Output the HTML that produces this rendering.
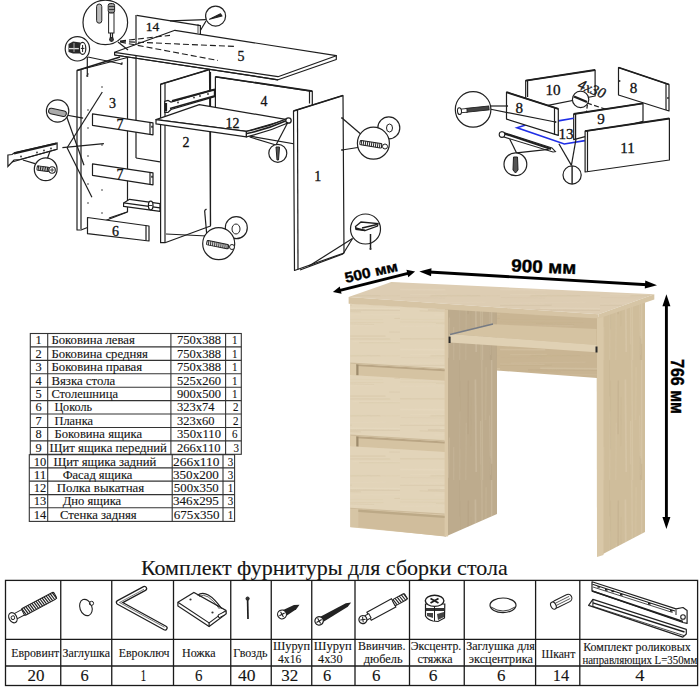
<!DOCTYPE html>
<html><head><meta charset="utf-8"><style>
html,body{margin:0;padding:0;background:#fff;width:700px;height:689px;overflow:hidden}
svg{display:block}
</style></head><body>
<svg width="700" height="689" viewBox="0 0 700 689">
<polyline points="136.7,15.3 200.4,25.6 200.4,34.1" stroke="#1e1e1e" stroke-width="1.2" fill="#fff" stroke-linejoin="round"/>
<line x1="136" y1="15" x2="136" y2="52" stroke="#1e1e1e" stroke-width="1.2" />
<line x1="198" y1="24" x2="198" y2="33" stroke="#1e1e1e" stroke-width="0.8" />
<text x="152.5" y="31.3" font-family="Liberation Serif" font-size="13.5" fill="#111" stroke="#111" stroke-width="0.3" text-anchor="middle">14</text>
<line x1="205.9" y1="19.6" x2="170" y2="20.8" stroke="#1e1e1e" stroke-width="1.2" />
<line x1="206" y1="21" x2="200.4" y2="30.5" stroke="#1e1e1e" stroke-width="1.2" />
<circle cx="215.6" cy="16.1" r="10" stroke="#222" stroke-width="1.2" fill="#fff"/>
<path d="M209.5,19.3 L220.5,13.8 L222,16 Z" fill="#222" stroke="#222" stroke-width="1.1" stroke-linejoin="round"/>
<polygon points="77.0,70.5 127.5,57.5 127.5,212.0 81.0,230.0 77.0,230.0" stroke="#1e1e1e" stroke-width="1.2" fill="#fff" stroke-linejoin="round"/>
<line x1="81" y1="69.5" x2="81" y2="229" stroke="#1e1e1e" stroke-width="1.2" />
<line x1="77" y1="70.5" x2="120" y2="57" stroke="#1e1e1e" stroke-width="1.6" />
<line x1="136" y1="52" x2="136" y2="158" stroke="#1e1e1e" stroke-width="1.2" />
<line x1="136" y1="158" x2="160" y2="161.8" stroke="#1e1e1e" stroke-width="1.2" />
<circle cx="88" cy="74" r="0.8" fill="#333"/>
<circle cx="122" cy="63" r="0.8" fill="#333"/>
<circle cx="102" cy="87" r="0.8" fill="#333"/>
<circle cx="88" cy="110" r="0.8" fill="#333"/>
<circle cx="102" cy="122" r="0.8" fill="#333"/>
<circle cx="88" cy="128" r="0.8" fill="#333"/>
<circle cx="102" cy="145" r="0.8" fill="#333"/>
<circle cx="88" cy="156" r="0.8" fill="#333"/>
<circle cx="102" cy="167" r="0.8" fill="#333"/>
<circle cx="88" cy="184" r="0.8" fill="#333"/>
<circle cx="102" cy="190" r="0.8" fill="#333"/>
<circle cx="88" cy="203" r="0.8" fill="#333"/>
<circle cx="102" cy="213" r="0.8" fill="#333"/>
<circle cx="88" cy="222" r="0.8" fill="#333"/>
<text x="112.5" y="107.5" font-family="Liberation Serif" font-size="14.0" fill="#111" stroke="#111" stroke-width="0.3" text-anchor="middle">3</text>
<polygon points="92.5,113.8 153.0,122.8 153.0,134.8 92.5,125.3" stroke="#1e1e1e" stroke-width="1.2" fill="#fff" stroke-linejoin="round"/>
<line x1="150" y1="122.3" x2="150" y2="134.3" stroke="#1e1e1e" stroke-width="1.2" />
<line x1="152" y1="125.8" x2="152" y2="127.8" stroke="#1e1e1e" stroke-width="1.5" />
<text x="120" y="128.5" font-family="Liberation Serif" font-size="14.0" fill="#111" stroke="#111" stroke-width="0.3" text-anchor="middle">7</text>
<polygon points="92.5,163.8 153.0,172.8 153.0,184.8 92.5,175.3" stroke="#1e1e1e" stroke-width="1.2" fill="#fff" stroke-linejoin="round"/>
<line x1="150" y1="172.3" x2="150" y2="184.3" stroke="#1e1e1e" stroke-width="1.2" />
<line x1="152" y1="175.8" x2="152" y2="177.8" stroke="#1e1e1e" stroke-width="1.5" />
<text x="120" y="178.5" font-family="Liberation Serif" font-size="14.0" fill="#111" stroke="#111" stroke-width="0.3" text-anchor="middle">7</text>
<polygon points="123.6,202.9 129.6,199.3 160.0,203.6 160.0,211.4 123.6,206.4" stroke="#1e1e1e" stroke-width="1.2" fill="#fff" stroke-linejoin="round"/>
<line x1="123.6" y1="202.9" x2="160" y2="207.8" stroke="#1e1e1e" stroke-width="1.2" />
<ellipse cx="150.7" cy="205.5" rx="2.3" ry="4.3" stroke="#1e1e1e" stroke-width="1.2" fill="#fff"/>
<line x1="149" y1="205.5" x2="152.4" y2="205.5" stroke="#1e1e1e" stroke-width="0.9" />
<polygon points="87.5,217.5 149.0,226.0 149.0,241.0 87.5,233.7" stroke="#1e1e1e" stroke-width="1.2" fill="#fff" stroke-linejoin="round"/>
<line x1="146" y1="225.5" x2="146" y2="240.5" stroke="#1e1e1e" stroke-width="1.2" />
<text x="115.5" y="235.5" font-family="Liberation Serif" font-size="14.0" fill="#111" stroke="#111" stroke-width="0.3" text-anchor="middle">6</text>
<line x1="109" y1="218" x2="127" y2="212" stroke="#1e1e1e" stroke-width="1.2" />
<polygon points="160.6,84.2 209.5,69.5 210.5,226.0 165.0,242.7 160.6,242.7" stroke="#1e1e1e" stroke-width="1.2" fill="#fff" stroke-linejoin="round"/>
<line x1="165" y1="83.5" x2="165" y2="242" stroke="#1e1e1e" stroke-width="1.2" />
<line x1="160.6" y1="84.2" x2="209.5" y2="69.5" stroke="#1e1e1e" stroke-width="1.5" />
<text x="186" y="146.5" font-family="Liberation Serif" font-size="14.0" fill="#111" stroke="#111" stroke-width="0.3" text-anchor="middle">2</text>
<line x1="210.5" y1="72" x2="210.5" y2="225" stroke="#1e1e1e" stroke-width="1.2" />
<polygon points="164.7,101.4 168.0,100.5 171.0,102.0 214.4,89.3 214.4,96.7 171.0,109.5 168.0,112.5 164.7,112.5" stroke="#1e1e1e" stroke-width="1.2" fill="#fff"/>
<line x1="172" y1="101" x2="214" y2="89.8" stroke="#1e1e1e" stroke-width="2" />
<line x1="170" y1="108.5" x2="214" y2="96" stroke="#1e1e1e" stroke-width="1.3" />
<line x1="166" y1="103" x2="166" y2="111.5" stroke="#1e1e1e" stroke-width="2.2" />
<circle cx="178" cy="102.5" r="0.9" fill="#333"/>
<circle cx="194" cy="97.5" r="0.9" fill="#333"/>
<circle cx="200" cy="96" r="0.9" fill="#333"/>
<circle cx="208" cy="94" r="0.9" fill="#333"/>
<line x1="166" y1="234" x2="207" y2="236" stroke="#1e1e1e" stroke-width="1.2" />
<line x1="204.6" y1="210.4" x2="206.8" y2="235" stroke="#1e1e1e" stroke-width="1.2" />
<line x1="204.6" y1="210.4" x2="206.5" y2="209" stroke="#1e1e1e" stroke-width="1.2" />
<polygon points="114.6,52.3 174.9,30.3 336.3,55.7 278.0,76.7" stroke="#1e1e1e" stroke-width="1.2" fill="#fff" stroke-linejoin="round"/>
<polyline points="114.6,52.3 114.6,55.0 278.0,79.8 336.3,59.5 336.3,55.7" stroke="#1e1e1e" stroke-width="1.2" fill="none" stroke-linejoin="round" stroke-linecap="round"/>
<line x1="114.6" y1="55" x2="278" y2="79.8" stroke="#1e1e1e" stroke-width="1.2" />
<text x="241" y="60.5" font-family="Liberation Serif" font-size="14.0" fill="#111" stroke="#111" stroke-width="0.3" text-anchor="middle">5</text>
<line x1="120" y1="41.5" x2="236" y2="46.5" stroke="#1e1e1e" stroke-width="1.1" stroke-dasharray="6,3"/>
<line x1="120" y1="42" x2="218" y2="60.5" stroke="#1e1e1e" stroke-width="1.1" stroke-dasharray="6,3"/>
<line x1="120" y1="41" x2="170" y2="35.4" stroke="#1e1e1e" stroke-width="1.1" stroke-dasharray="6,3"/>
<line x1="118" y1="42" x2="128" y2="50" stroke="#1e1e1e" stroke-width="1.2" />
<polygon points="215.4,76.9 312.3,91.4 312.3,147.0 215.4,130.0" stroke="#1e1e1e" stroke-width="1.2" fill="#fff" stroke-linejoin="round"/>
<line x1="309.5" y1="90.5" x2="309.5" y2="103.5" stroke="#1e1e1e" stroke-width="1.2" />
<line x1="215.6" y1="76.7" x2="312.3" y2="91.1" stroke="#1e1e1e" stroke-width="1.6" />
<text x="264" y="105.5" font-family="Liberation Serif" font-size="14.0" fill="#111" stroke="#111" stroke-width="0.3" text-anchor="middle">4</text>
<polygon points="156.0,119.6 199.3,104.6 287.1,119.6 246.4,131.4" stroke="#1e1e1e" stroke-width="1.2" fill="#fff" stroke-linejoin="round"/>
<polygon points="156.0,119.6 156.0,123.9 246.4,136.8 246.4,131.4" stroke="#1e1e1e" stroke-width="1.2" fill="#fff" stroke-linejoin="round"/>
<path d="M246.4,131.4 Q268,127 287.1,118.6 L289,122.5 Q268,132 246.4,136.8 Z" stroke="#1e1e1e" stroke-width="1.2" fill="#fff"/>
<path d="M247,133.5 Q268,129 288,120" stroke="#1e1e1e" stroke-width="1.6" fill="none"/>
<circle cx="288.5" cy="120.5" r="2.7" stroke="#222" stroke-width="1.3" fill="#fff"/>
<text x="232.4" y="127.5" font-family="Liberation Serif" font-size="14.0" fill="#111" stroke="#111" stroke-width="0.3" text-anchor="middle">12</text>
<line x1="249.7" y1="137" x2="276" y2="145" stroke="#1e1e1e" stroke-width="1.2" />
<line x1="288" y1="122" x2="276" y2="145" stroke="#1e1e1e" stroke-width="1.2" />
<circle cx="277.8" cy="153.3" r="9" stroke="#222" stroke-width="1.2" fill="#fff"/>
<polygon points="276.0,147.0 279.5,147.0 278.5,160.0 277.0,160.0" stroke="#222" stroke-width="1" fill="#555"/>
<polygon points="293.5,111.0 343.0,95.5 344.0,253.0 294.5,270.5" stroke="#1e1e1e" stroke-width="1.2" fill="#fff" stroke-linejoin="round"/>
<line x1="297.5" y1="110" x2="298" y2="269.5" stroke="#1e1e1e" stroke-width="1.2" />
<line x1="293.5" y1="111" x2="343" y2="95.5" stroke="#1e1e1e" stroke-width="1.5" />
<text x="317.7" y="180.5" font-family="Liberation Serif" font-size="14.0" fill="#111" stroke="#111" stroke-width="0.3" text-anchor="middle">1</text>
<line x1="342" y1="118" x2="363" y2="136" stroke="#1e1e1e" stroke-width="1.2" />
<line x1="342" y1="150" x2="361" y2="147" stroke="#1e1e1e" stroke-width="1.2" />
<circle cx="342" cy="118" r="0.9" fill="#333"/>
<circle cx="342" cy="150" r="0.9" fill="#333"/>
<circle cx="388.8" cy="127.9" r="11" stroke="#222" stroke-width="1.2" fill="#fff"/>
<ellipse cx="389.5" cy="128" rx="3" ry="4" stroke="#222" stroke-width="1" fill="none"/>
<circle cx="373.4" cy="143.2" r="16" stroke="#222" stroke-width="1.2" fill="#fff"/>
<g transform="translate(360,142.5) rotate(9)"><rect x="0" y="-2.2" width="22" height="4.4" rx="1.1" stroke="#222" stroke-width="1" fill="#fff"/><line x1="1" y1="-2.2" x2="2.2" y2="2.2" stroke="#222" stroke-width="0.9"/><line x1="3.0" y1="-2.2" x2="4.2" y2="2.2" stroke="#222" stroke-width="0.9"/><line x1="5.0" y1="-2.2" x2="6.2" y2="2.2" stroke="#222" stroke-width="0.9"/><line x1="7.0" y1="-2.2" x2="8.2" y2="2.2" stroke="#222" stroke-width="0.9"/><line x1="9.0" y1="-2.2" x2="10.2" y2="2.2" stroke="#222" stroke-width="0.9"/><line x1="11.0" y1="-2.2" x2="12.2" y2="2.2" stroke="#222" stroke-width="0.9"/><line x1="13.0" y1="-2.2" x2="14.2" y2="2.2" stroke="#222" stroke-width="0.9"/><line x1="15.0" y1="-2.2" x2="16.2" y2="2.2" stroke="#222" stroke-width="0.9"/><line x1="17.0" y1="-2.2" x2="18.2" y2="2.2" stroke="#222" stroke-width="0.9"/><line x1="19.0" y1="-2.2" x2="20.2" y2="2.2" stroke="#222" stroke-width="0.9"/><line x1="21.0" y1="-2.2" x2="22.2" y2="2.2" stroke="#222" stroke-width="0.9"/></g>
<circle cx="385" cy="146.5" r="2.5" stroke="#222" stroke-width="1" fill="#fff"/>
<line x1="352.5" y1="238.5" x2="309" y2="266" stroke="#1e1e1e" stroke-width="1.2" />
<line x1="352.5" y1="238.5" x2="343" y2="254" stroke="#1e1e1e" stroke-width="1.2" />
<line x1="343" y1="254" x2="300" y2="270" stroke="#1e1e1e" stroke-width="1.2" />
<circle cx="365.5" cy="229" r="15" stroke="#222" stroke-width="1.2" fill="#fff"/>
<polygon points="355.5,226.5 361.0,222.0 378.0,223.5 377.5,226.0 365.0,230.5 356.0,229.5" stroke="#1e1e1e" stroke-width="1.3" fill="#fff"/>
<line x1="362" y1="228" x2="377" y2="224.5" stroke="#1e1e1e" stroke-width="1.6" />
<line x1="355.5" y1="228" x2="365" y2="230.5" stroke="#1e1e1e" stroke-width="1.8" />
<line x1="370.5" y1="234" x2="370.5" y2="249" stroke="#1e1e1e" stroke-width="1.5" />
<circle cx="370.5" cy="249" r="1.1" fill="#333"/>
<circle cx="236.3" cy="227.7" r="11" stroke="#222" stroke-width="1.2" fill="#fff"/>
<ellipse cx="236" cy="229" rx="4" ry="5" stroke="#222" stroke-width="1" fill="none"/>
<circle cx="218.7" cy="243.7" r="16" stroke="#222" stroke-width="1.2" fill="#fff"/>
<g transform="translate(206.8,242.5) rotate(11.5)"><rect x="0" y="-2.2" width="22" height="4.4" rx="1.1" stroke="#222" stroke-width="1" fill="#fff"/><line x1="1" y1="-2.2" x2="2.2" y2="2.2" stroke="#222" stroke-width="0.9"/><line x1="3.0" y1="-2.2" x2="4.2" y2="2.2" stroke="#222" stroke-width="0.9"/><line x1="5.0" y1="-2.2" x2="6.2" y2="2.2" stroke="#222" stroke-width="0.9"/><line x1="7.0" y1="-2.2" x2="8.2" y2="2.2" stroke="#222" stroke-width="0.9"/><line x1="9.0" y1="-2.2" x2="10.2" y2="2.2" stroke="#222" stroke-width="0.9"/><line x1="11.0" y1="-2.2" x2="12.2" y2="2.2" stroke="#222" stroke-width="0.9"/><line x1="13.0" y1="-2.2" x2="14.2" y2="2.2" stroke="#222" stroke-width="0.9"/><line x1="15.0" y1="-2.2" x2="16.2" y2="2.2" stroke="#222" stroke-width="0.9"/><line x1="17.0" y1="-2.2" x2="18.2" y2="2.2" stroke="#222" stroke-width="0.9"/><line x1="19.0" y1="-2.2" x2="20.2" y2="2.2" stroke="#222" stroke-width="0.9"/><line x1="21.0" y1="-2.2" x2="22.2" y2="2.2" stroke="#222" stroke-width="0.9"/></g>
<circle cx="232" cy="247" r="2.5" stroke="#222" stroke-width="1" fill="#fff"/>
<circle cx="105.3" cy="22.4" r="22.3" stroke="#222" stroke-width="1.2" fill="#fff"/>
<rect x="96.6" y="4" width="5.2" height="19.2" rx="2.6" stroke="#222" stroke-width="1" fill="#bbb"/>
<rect x="108.6" y="12.8" width="5.4" height="20.2" stroke="#222" stroke-width="1" fill="#fff"/>
<rect x="108.2" y="3.5" width="6.4" height="9.3" rx="2" stroke="#222" stroke-width="1" fill="#999"/>
<line x1="109" y1="6.5" x2="114" y2="6.5" stroke="#1e1e1e" stroke-width="0.8" />
<line x1="109" y1="9.5" x2="114" y2="9.5" stroke="#1e1e1e" stroke-width="0.8" />
<line x1="110.5" y1="33" x2="110.5" y2="38" stroke="#1e1e1e" stroke-width="1.2" />
<line x1="112.5" y1="33" x2="112.5" y2="38" stroke="#1e1e1e" stroke-width="1.2" />
<circle cx="111.5" cy="39.5" r="1.8" stroke="#222" stroke-width="1.2" fill="#444"/>
<line x1="87.9" y1="57" x2="121.5" y2="64" stroke="#1e1e1e" stroke-width="1.2" />
<circle cx="121.5" cy="64" r="1.1" fill="#333"/>
<line x1="87.3" y1="57" x2="87.3" y2="76" stroke="#1e1e1e" stroke-width="1.2" />
<circle cx="87.3" cy="76" r="1.1" fill="#333"/>
<circle cx="77.4" cy="48.8" r="12.2" stroke="#222" stroke-width="1.2" fill="#fff"/>
<path d="M68.5,44 L73,41.5 L80.5,42.5 L80.5,53.5 L73,53.5 L68.5,52 Z" fill="#2a2a2a"/>
<line x1="69" y1="48.6" x2="79" y2="48.6" stroke="#ddd" stroke-width="1.3" />
<line x1="74" y1="43" x2="74" y2="52" stroke="#bbb" stroke-width="0.9" />
<ellipse cx="82.6" cy="48.4" rx="3.2" ry="6" stroke="#222" stroke-width="1.2" fill="#fff"/>
<line x1="82.6" y1="45" x2="82.6" y2="52" stroke="#1e1e1e" stroke-width="1" />
<line x1="80.8" y1="48.4" x2="84.4" y2="48.4" stroke="#1e1e1e" stroke-width="1" />
<line x1="66" y1="115" x2="83.1" y2="118.2" stroke="#1e1e1e" stroke-width="1.2" />
<line x1="66.3" y1="115.8" x2="84" y2="165.3" stroke="#1e1e1e" stroke-width="1.2" />
<circle cx="57.6" cy="111" r="11.2" stroke="#222" stroke-width="1.2" fill="#fff"/>
<rect x="48.5" y="109.5" width="18" height="5.5" rx="2.5" stroke="#222" stroke-width="1" fill="#aaa" transform="rotate(12 57 112)"/>
<line x1="67.1" y1="147.7" x2="102.3" y2="92" stroke="#1e1e1e" stroke-width="1.2" />
<line x1="62.4" y1="147.7" x2="103.9" y2="143.7" stroke="#1e1e1e" stroke-width="1.2" />
<line x1="67.1" y1="147.7" x2="91.9" y2="197.2" stroke="#1e1e1e" stroke-width="1.2" />
<polygon points="7.9,155.0 12.0,154.5 15.0,152.5 57.1,142.9 57.1,149.3 20.0,159.5 14.0,160.0 7.9,166.4" stroke="#1e1e1e" stroke-width="1.2" fill="#fff"/>
<line x1="14" y1="153.5" x2="56.5" y2="143.5" stroke="#1e1e1e" stroke-width="2.2" />
<line x1="12" y1="162" x2="56" y2="149.5" stroke="#1e1e1e" stroke-width="1.2" />
<circle cx="21" cy="156.5" r="0.9" fill="#333"/>
<circle cx="37" cy="152.5" r="0.9" fill="#333"/>
<circle cx="44" cy="150.5" r="0.9" fill="#333"/>
<circle cx="51" cy="148.5" r="0.9" fill="#333"/>
<line x1="22.9" y1="160" x2="35" y2="163.6" stroke="#1e1e1e" stroke-width="1.2" />
<line x1="50" y1="151.4" x2="47.1" y2="159.3" stroke="#1e1e1e" stroke-width="1.2" />
<circle cx="45.7" cy="169.3" r="11.4" stroke="#222" stroke-width="1.2" fill="#fff"/>
<g transform="translate(37.1,167.9) rotate(8)"><rect x="0" y="-2.2" width="12" height="4.4" rx="1.1" stroke="#222" stroke-width="1" fill="#fff"/><line x1="1" y1="-2.2" x2="2.2" y2="2.2" stroke="#222" stroke-width="1.0"/><line x1="2.8" y1="-2.2" x2="4.0" y2="2.2" stroke="#222" stroke-width="1.0"/><line x1="4.6" y1="-2.2" x2="5.8" y2="2.2" stroke="#222" stroke-width="1.0"/><line x1="6.3999999999999995" y1="-2.2" x2="7.6" y2="2.2" stroke="#222" stroke-width="1.0"/><line x1="8.2" y1="-2.2" x2="9.399999999999999" y2="2.2" stroke="#222" stroke-width="1.0"/><line x1="10.0" y1="-2.2" x2="11.2" y2="2.2" stroke="#222" stroke-width="1.0"/></g>
<circle cx="52.1" cy="170" r="3.2" stroke="#222" stroke-width="1.1" fill="#fff"/>
<line x1="50" y1="170" x2="54.2" y2="170" stroke="#1e1e1e" stroke-width="0.8" />
<line x1="52.1" y1="168" x2="52.1" y2="172" stroke="#1e1e1e" stroke-width="0.8" />
<polygon points="525.7,80.6 595.1,70.0 595.1,96.0 548.0,105.4 525.7,109.0" stroke="#1e1e1e" stroke-width="1.2" fill="#fff" stroke-linejoin="round"/>
<line x1="525.7" y1="80.6" x2="595.1" y2="70" stroke="#1e1e1e" stroke-width="1.8" />
<line x1="527.6" y1="81" x2="527.6" y2="97" stroke="#1e1e1e" stroke-width="1.2" />
<text x="553.1" y="94.5" font-family="Liberation Serif" font-size="15.1" fill="#111" stroke="#111" stroke-width="0.3" text-anchor="middle">10</text>
<polygon points="618.5,67.5 669.0,84.5 669.0,111.0 618.5,95.0" stroke="#1e1e1e" stroke-width="1.2" fill="#fff" stroke-linejoin="round"/>
<line x1="618.5" y1="67.5" x2="669" y2="84.5" stroke="#1e1e1e" stroke-width="1.8" />
<line x1="666" y1="84" x2="666" y2="110" stroke="#1e1e1e" stroke-width="1.2" />
<circle cx="619.5" cy="81" r="1" fill="#333"/>
<circle cx="668" cy="98" r="1" fill="#333"/>
<text x="633.6" y="93.0" font-family="Liberation Serif" font-size="15.1" fill="#111" stroke="#111" stroke-width="0.3" text-anchor="middle">8</text>
<line x1="587" y1="103" x2="633.6" y2="118.5" stroke="#1e1e1e" stroke-width="1.2" stroke-dasharray="5,2.5"/>
<line x1="587.4" y1="104.6" x2="584.9" y2="124" stroke="#1e1e1e" stroke-width="1.2" stroke-dasharray="4,2"/>
<circle cx="584.9" cy="126" r="1" fill="#333"/>
<polygon points="573.7,114.0 643.0,103.4 643.0,121.3 573.7,139.7" stroke="#1e1e1e" stroke-width="1.2" fill="#fff" stroke-linejoin="round"/>
<line x1="573.7" y1="114" x2="643" y2="103.4" stroke="#1e1e1e" stroke-width="1.8" />
<line x1="575.6" y1="114" x2="575.6" y2="139.5" stroke="#1e1e1e" stroke-width="1.2" />
<text x="601.1" y="124.0" font-family="Liberation Serif" font-size="15.1" fill="#111" stroke="#111" stroke-width="0.3" text-anchor="middle">9</text>
<polyline points="525.7,125.1 517.1,127.7 564.3,144.0 584.9,140.6" stroke="#1f2ee6" stroke-width="1.6" fill="none"/>
<polyline points="558.3,120.9 573.7,118.3" stroke="#1f2ee6" stroke-width="1.6" fill="none"/>
<text x="566" y="138.5" font-family="Liberation Serif" font-size="15.1" fill="#111" stroke="#111" stroke-width="0.3" text-anchor="middle">13</text>
<polygon points="506.5,92.2 558.3,108.9 558.3,135.4 506.5,119.1" stroke="#1e1e1e" stroke-width="1.2" fill="#fff" stroke-linejoin="round"/>
<line x1="506.5" y1="92.2" x2="558.3" y2="108.9" stroke="#1e1e1e" stroke-width="1.9" />
<line x1="554.5" y1="108" x2="554.5" y2="135" stroke="#1e1e1e" stroke-width="1.2" />
<circle cx="507" cy="106" r="1.1" fill="#333"/>
<circle cx="555.4" cy="122" r="1.1" fill="#333"/>
<text x="519.2" y="112.5" font-family="Liberation Serif" font-size="15.1" fill="#111" stroke="#111" stroke-width="0.3" text-anchor="middle">8</text>
<polygon points="585.1,131.1 669.4,118.5 669.4,160.0 585.1,172.0" stroke="#1e1e1e" stroke-width="1.2" fill="#fff" stroke-linejoin="round"/>
<line x1="585.1" y1="131.1" x2="669.4" y2="118.5" stroke="#1e1e1e" stroke-width="1.9" />
<line x1="587.5" y1="131" x2="587.5" y2="171.5" stroke="#1e1e1e" stroke-width="1.2" />
<text x="627.5" y="152.5" font-family="Liberation Serif" font-size="15.1" fill="#111" stroke="#111" stroke-width="0.3" text-anchor="middle">11</text>
<polygon points="502.0,132.0 552.0,148.0 555.4,151.7 553.0,152.0 504.0,137.0" stroke="#222" stroke-width="1.1" fill="#fff"/>
<line x1="504" y1="133.5" x2="551" y2="149" stroke="#1e1e1e" stroke-width="2" />
<circle cx="502" cy="134.6" r="2.8" stroke="#222" stroke-width="1.1" fill="#fff"/>
<line x1="509.7" y1="139.1" x2="516.6" y2="152.9" stroke="#1e1e1e" stroke-width="1.2" />
<line x1="548.6" y1="149.4" x2="516.6" y2="152.9" stroke="#1e1e1e" stroke-width="1.2" />
<circle cx="515.4" cy="164.3" r="11.4" stroke="#222" stroke-width="1.2" fill="#fff"/>
<polygon points="513.5,157.0 517.5,157.0 518.0,170.0 515.5,173.0 513.0,170.0" stroke="#222" stroke-width="1" fill="#555"/>
<line x1="558.9" y1="143.7" x2="571.4" y2="165.4" stroke="#1e1e1e" stroke-width="1.2" />
<line x1="576" y1="139.1" x2="571.4" y2="165.4" stroke="#1e1e1e" stroke-width="1.2" />
<circle cx="572.1" cy="175" r="9.1" stroke="#222" stroke-width="1.2" fill="#fff"/>
<line x1="572.1" y1="166" x2="572.1" y2="184" stroke="#1e1e1e" stroke-width="1.4" />
<line x1="489.5" y1="106" x2="507" y2="106" stroke="#1e1e1e" stroke-width="1.2" />
<line x1="489.5" y1="109" x2="555.4" y2="122" stroke="#1e1e1e" stroke-width="1.2" />
<circle cx="473.1" cy="109.4" r="17.8" stroke="#222" stroke-width="1.2" fill="#fff"/>
<g transform="rotate(-6 474 109.5)"><rect x="466" y="107.5" width="23" height="4" stroke="#222" stroke-width="1" fill="#444"/><rect x="461" y="107.8" width="6" height="3.6" stroke="#222" stroke-width="1" fill="#fff"/><ellipse cx="459.4" cy="109.6" rx="2" ry="3.5" stroke="#222" stroke-width="1" fill="#fff"/></g>
<circle cx="580.6" cy="99.4" r="8.2" stroke="#222" stroke-width="1.2" fill="#fff"/>
<line x1="574" y1="96.5" x2="587" y2="102" stroke="#1e1e1e" stroke-width="2.4" />
<g transform="translate(577,88) rotate(22)"><text x="0" y="0" font-family="Liberation Serif" font-size="14.5" font-style="italic" fill="#151515" stroke="#151515" stroke-width="0.35">4x30</text></g>
<g transform="translate(12.9,617.7) rotate(-28)"><rect x="11" y="-3.8" width="37" height="7.6" rx="1.9" stroke="#222" stroke-width="1" fill="#fff"/><line x1="12" y1="-3.8" x2="13.2" y2="3.8" stroke="#222" stroke-width="1.2"/><line x1="14.3" y1="-3.8" x2="15.5" y2="3.8" stroke="#222" stroke-width="1.2"/><line x1="16.6" y1="-3.8" x2="17.8" y2="3.8" stroke="#222" stroke-width="1.2"/><line x1="18.900000000000002" y1="-3.8" x2="20.1" y2="3.8" stroke="#222" stroke-width="1.2"/><line x1="21.200000000000003" y1="-3.8" x2="22.400000000000002" y2="3.8" stroke="#222" stroke-width="1.2"/><line x1="23.500000000000004" y1="-3.8" x2="24.700000000000003" y2="3.8" stroke="#222" stroke-width="1.2"/><line x1="25.800000000000004" y1="-3.8" x2="27.000000000000004" y2="3.8" stroke="#222" stroke-width="1.2"/><line x1="28.100000000000005" y1="-3.8" x2="29.300000000000004" y2="3.8" stroke="#222" stroke-width="1.2"/><line x1="30.400000000000006" y1="-3.8" x2="31.600000000000005" y2="3.8" stroke="#222" stroke-width="1.2"/><line x1="32.7" y1="-3.8" x2="33.900000000000006" y2="3.8" stroke="#222" stroke-width="1.2"/><line x1="35.0" y1="-3.8" x2="36.2" y2="3.8" stroke="#222" stroke-width="1.2"/><line x1="37.3" y1="-3.8" x2="38.5" y2="3.8" stroke="#222" stroke-width="1.2"/><line x1="39.599999999999994" y1="-3.8" x2="40.8" y2="3.8" stroke="#222" stroke-width="1.2"/><line x1="41.89999999999999" y1="-3.8" x2="43.099999999999994" y2="3.8" stroke="#222" stroke-width="1.2"/><line x1="44.19999999999999" y1="-3.8" x2="45.39999999999999" y2="3.8" stroke="#222" stroke-width="1.2"/><line x1="46.499999999999986" y1="-3.8" x2="47.69999999999999" y2="3.8" stroke="#222" stroke-width="1.2"/><rect x="2" y="-3" width="9.5" height="6" stroke="#222" stroke-width="1" fill="#fff"/><ellipse cx="0" cy="0" rx="3.8" ry="5.4" stroke="#222" stroke-width="1.2" fill="#fff"/><circle cx="0" cy="0" r="1.8" stroke="#222" stroke-width="0.9" fill="none"/></g>
<ellipse cx="85.9" cy="607.5" rx="6" ry="8.4" transform="rotate(-20 85.9 607.5)" stroke="#222" stroke-width="1.1" fill="#fff"/>
<circle cx="91.6" cy="603.3" r="2" stroke="#222" stroke-width="1" fill="#fff"/>
<line x1="89.5" y1="604.5" x2="90.5" y2="603.5" stroke="#1e1e1e" stroke-width="2" />
<path d="M144.5,588.5 L118.5,602.5 L165,628" stroke="#1e1e1e" stroke-width="5.4" fill="none" stroke-linejoin="round" stroke-linecap="round"/>
<path d="M144.5,588.5 L118.5,602.5 L165,628" stroke="#fff" stroke-width="2.9" fill="none" stroke-linejoin="round" stroke-linecap="round"/>
<path d="M144,589.3 L119.5,602.5 L164.5,627.2" stroke="#555" stroke-width="0.8" fill="none" stroke-linejoin="round"/>
<polygon points="177.9,602.3 193.9,592.5 226.0,610.4 226.0,614.0 209.1,626.5 177.9,606.0" stroke="#222" stroke-width="1.2" fill="#fff"/>
<polyline points="177.9,602.3 209.1,622.9 226.0,610.4" stroke="#222" stroke-width="1.1" fill="none"/>
<line x1="209.1" y1="622.9" x2="209.1" y2="626.5" stroke="#1e1e1e" stroke-width="1.2" />
<path d="M197.5,595.2 Q207,588 221.6,608.6" stroke="#222" stroke-width="1.3" fill="none"/>
<path d="M199,596.5 Q207,591 219.5,609" stroke="#222" stroke-width="0.7" fill="none"/>
<circle cx="190.5" cy="599.5" r="1.1" fill="#333"/>
<circle cx="212.5" cy="612.5" r="1.1" fill="#333"/>
<polygon points="218.0,615.0 226.0,611.0 226.0,614.0 219.0,618.0" stroke="#222" stroke-width="1" fill="#fff"/>
<line x1="247.6" y1="599" x2="248" y2="619" stroke="#1e1e1e" stroke-width="1.7" />
<circle cx="247.6" cy="598.6" r="1.6" stroke="#222" stroke-width="1" fill="#333"/>
<g transform="translate(282,614.4) rotate(-29)"><path d="M2,-3.4 L15,-2.4 L20,0 L15,2.4 L2,3.4 Z" fill="#222"/><circle cx="0" cy="0" r="4.4" stroke="#222" stroke-width="1.2" fill="#fff"/><line x1="-3" y1="0" x2="3" y2="0" stroke="#222" stroke-width="1.1"/><line x1="0" y1="-3" x2="0" y2="3" stroke="#222" stroke-width="1.1"/></g>
<g transform="translate(319.1,620.9) rotate(-30)"><path d="M2,-3 L32,-2 L37,0 L32,2 L2,3 Z" fill="#222"/><circle cx="0" cy="0" r="4.2" stroke="#222" stroke-width="1.2" fill="#fff"/><line x1="-3" y1="0" x2="3" y2="0" stroke="#222" stroke-width="1.1"/><line x1="0" y1="-3" x2="0" y2="3" stroke="#222" stroke-width="1.1"/></g>
<g transform="translate(362.9,619.6) rotate(-28.5)"><rect x="7" y="-4.6" width="28" height="9.2" stroke="#222" stroke-width="1.1" fill="#fff"/><rect x="35" y="-3.4" width="14" height="6.8" rx="1.7" stroke="#222" stroke-width="1" fill="#fff"/><line x1="36" y1="-3.4" x2="37.2" y2="3.4" stroke="#222" stroke-width="1.1"/><line x1="38.4" y1="-3.4" x2="39.6" y2="3.4" stroke="#222" stroke-width="1.1"/><line x1="40.8" y1="-3.4" x2="42.0" y2="3.4" stroke="#222" stroke-width="1.1"/><line x1="43.199999999999996" y1="-3.4" x2="44.4" y2="3.4" stroke="#222" stroke-width="1.1"/><line x1="45.599999999999994" y1="-3.4" x2="46.8" y2="3.4" stroke="#222" stroke-width="1.1"/><line x1="47.99999999999999" y1="-3.4" x2="49.199999999999996" y2="3.4" stroke="#222" stroke-width="1.1"/><rect x="3" y="-2.4" width="5" height="4.8" stroke="#222" stroke-width="1" fill="#fff"/><circle cx="0" cy="0" r="4" stroke="#222" stroke-width="1.2" fill="#fff"/><line x1="-2.5" y1="-1" x2="2.5" y2="1" stroke="#222" stroke-width="1"/><line x1="-1" y1="2.5" x2="1" y2="-2.5" stroke="#222" stroke-width="1"/></g>
<path d="M425.5,604 L425.5,616 Q428,620 433,621 L438,621.5 L444.5,618 L444.8,604 Z" stroke="#1e1e1e" stroke-width="1.2" fill="#fff"/>
<path d="M426,608 L444,608 L444,611 L426,611 Z" fill="#333"/>
<path d="M427,613 L433,613 L433,618 L427,616 Z" fill="#444"/>
<path d="M437,614 L444,612 L444,617 L438,620 Z" fill="#444"/>
<line x1="434.5" y1="606" x2="434.5" y2="621" stroke="#1e1e1e" stroke-width="1" />
<ellipse cx="434.6" cy="600.8" rx="9.3" ry="5.6" stroke="#1e1e1e" stroke-width="1.4" fill="#fff"/>
<path d="M430.5,598.5 L438.5,603 M430.5,603 L438.5,598.5" stroke="#1e1e1e" stroke-width="1.8"/>
<ellipse cx="503" cy="605.3" rx="13" ry="7.3" stroke="#222" stroke-width="1.2" fill="#fff"/>
<path d="M491,607 Q503,615 515,607" stroke="#222" stroke-width="0.9" fill="none"/>
<g transform="translate(552.7,605.9) rotate(-26.5)"><rect x="0" y="-3.8" width="21" height="7.6" rx="3.8" stroke="#222" stroke-width="1.1" fill="#fff"/><line x1="3" y1="-1.2" x2="19" y2="-1.2" stroke="#444" stroke-width="0.8"/><line x1="3" y1="1.2" x2="19" y2="1.2" stroke="#444" stroke-width="0.8"/><ellipse cx="0.8" cy="0" rx="2.5" ry="3.8" stroke="#222" stroke-width="1.1" fill="#fff"/></g>
<polygon points="592.0,581.8 676.0,608.9 683.0,607.5 687.1,610.6 687.1,623.4 683.0,622.5 592.0,590.9" stroke="#222" stroke-width="1.2" fill="#fff" stroke-linejoin="round"/>
<line x1="592.5" y1="584.3" x2="675" y2="611" stroke="#1e1e1e" stroke-width="1.1" />
<line x1="593" y1="587" x2="672.6" y2="612.5" stroke="#1e1e1e" stroke-width="0.8" />
<line x1="676" y1="609.5" x2="676" y2="615" stroke="#1e1e1e" stroke-width="1" />
<circle cx="683" cy="617" r="2.3" stroke="#222" stroke-width="1.1" fill="#fff"/>
<line x1="592" y1="590.9" x2="683" y2="621.5" stroke="#1e1e1e" stroke-width="1.6" />
<rect x="597.5" y="586" width="2.6" height="1.7" fill="#222"/>
<rect x="605" y="589" width="2.6" height="1.7" fill="#222"/>
<rect x="611.5" y="590.5" width="2.6" height="1.7" fill="#222"/>
<rect x="620" y="594" width="2.6" height="1.7" fill="#222"/>
<rect x="648" y="603" width="2.6" height="1.7" fill="#222"/>
<rect x="670" y="610" width="2.6" height="1.7" fill="#222"/>
<polygon points="592.9,599.4 686.3,629.4 686.3,634.0 682.9,637.1 588.6,605.4" stroke="#222" stroke-width="1.2" fill="#fff" stroke-linejoin="round"/>
<line x1="592.9" y1="602.9" x2="684.5" y2="632" stroke="#1e1e1e" stroke-width="1.4" />
<line x1="592.9" y1="606.3" x2="684" y2="635.6" stroke="#1e1e1e" stroke-width="0.8" />
<line x1="592.9" y1="599.4" x2="592.9" y2="606.3" stroke="#1e1e1e" stroke-width="1" />
<circle cx="630" cy="619" r="1" fill="#333"/>
<defs><pattern id="gh" patternUnits="userSpaceOnUse" width="100" height="60"><line x1="1.1" y1="19.4" x2="83.2" y2="19.6" stroke="#bba27a" stroke-opacity="0.06" stroke-width="1.1"/><line x1="10.1" y1="54.6" x2="46.9" y2="54.4" stroke="#f4ead6" stroke-opacity="0.12" stroke-width="0.8"/><line x1="-2.7" y1="49.6" x2="45.2" y2="49.8" stroke="#f4ead6" stroke-opacity="0.16" stroke-width="1.5"/><line x1="11.0" y1="3.0" x2="85.5" y2="2.2" stroke="#f4ead6" stroke-opacity="0.07" stroke-width="1.0"/><line x1="94.3" y1="18.5" x2="138.7" y2="17.7" stroke="#bba27a" stroke-opacity="0.15" stroke-width="1.2"/><line x1="59.0" y1="42.7" x2="138.5" y2="42.7" stroke="#bba27a" stroke-opacity="0.13" stroke-width="1.1"/><line x1="30.6" y1="55.4" x2="80.5" y2="55.6" stroke="#a8916a" stroke-opacity="0.08" stroke-width="1.4"/><line x1="102.5" y1="31.5" x2="190.9" y2="31.5" stroke="#a8916a" stroke-opacity="0.10" stroke-width="1.6"/><line x1="27.9" y1="9.9" x2="132.5" y2="10.4" stroke="#a8916a" stroke-opacity="0.12" stroke-width="1.6"/><line x1="102.6" y1="34.4" x2="157.7" y2="35.0" stroke="#f4ead6" stroke-opacity="0.17" stroke-width="1.2"/><line x1="-6.9" y1="4.1" x2="44.7" y2="4.5" stroke="#f4ead6" stroke-opacity="0.17" stroke-width="0.6"/><line x1="119.0" y1="38.8" x2="214.8" y2="38.5" stroke="#f4ead6" stroke-opacity="0.10" stroke-width="0.9"/><line x1="29.8" y1="56.4" x2="108.6" y2="55.7" stroke="#bba27a" stroke-opacity="0.13" stroke-width="0.7"/><line x1="34.7" y1="14.9" x2="134.4" y2="14.4" stroke="#f4ead6" stroke-opacity="0.06" stroke-width="1.0"/><line x1="40.3" y1="8.2" x2="114.3" y2="9.0" stroke="#f4ead6" stroke-opacity="0.17" stroke-width="1.6"/><line x1="1.1" y1="57.5" x2="45.2" y2="58.1" stroke="#bba27a" stroke-opacity="0.09" stroke-width="0.8"/><line x1="19.5" y1="10.9" x2="61.1" y2="11.8" stroke="#bba27a" stroke-opacity="0.14" stroke-width="1.2"/><line x1="52.2" y1="41.4" x2="131.6" y2="42.0" stroke="#f4ead6" stroke-opacity="0.16" stroke-width="0.6"/><line x1="35.9" y1="23.5" x2="74.1" y2="24.5" stroke="#a8916a" stroke-opacity="0.16" stroke-width="0.6"/><line x1="-4.6" y1="26.4" x2="73.4" y2="25.6" stroke="#f4ead6" stroke-opacity="0.07" stroke-width="1.1"/><line x1="-16.4" y1="21.8" x2="83.5" y2="22.7" stroke="#bba27a" stroke-opacity="0.15" stroke-width="0.7"/><line x1="46.4" y1="36.1" x2="85.6" y2="36.1" stroke="#bba27a" stroke-opacity="0.13" stroke-width="1.6"/><line x1="-5.7" y1="5.2" x2="51.7" y2="5.2" stroke="#a8916a" stroke-opacity="0.10" stroke-width="1.4"/><line x1="113.3" y1="12.3" x2="172.2" y2="11.9" stroke="#f4ead6" stroke-opacity="0.17" stroke-width="1.5"/><line x1="-7.3" y1="38.6" x2="90.4" y2="39.1" stroke="#bba27a" stroke-opacity="0.14" stroke-width="1.5"/><line x1="89.1" y1="32.0" x2="145.4" y2="32.6" stroke="#a8916a" stroke-opacity="0.09" stroke-width="1.4"/></pattern><pattern id="gv" patternUnits="userSpaceOnUse" width="50" height="120"><line x1="40.9" y1="98.4" x2="41.9" y2="161.1" stroke="#8f7c5c" stroke-opacity="0.14" stroke-width="1.0"/><line x1="39.5" y1="55.6" x2="40.5" y2="114.9" stroke="#efe3cc" stroke-opacity="0.15" stroke-width="0.9"/><line x1="47.8" y1="38.3" x2="47.7" y2="100.4" stroke="#8f7c5c" stroke-opacity="0.09" stroke-width="0.8"/><line x1="49.3" y1="77.6" x2="48.4" y2="117.8" stroke="#efe3cc" stroke-opacity="0.20" stroke-width="0.9"/><line x1="33.0" y1="125.6" x2="32.9" y2="243.8" stroke="#8f7c5c" stroke-opacity="0.18" stroke-width="1.1"/><line x1="31.8" y1="-6.1" x2="32.7" y2="128.5" stroke="#efe3cc" stroke-opacity="0.17" stroke-width="1.1"/><line x1="36.2" y1="7.2" x2="35.5" y2="59.9" stroke="#efe3cc" stroke-opacity="0.08" stroke-width="1.7"/><line x1="41.3" y1="136.8" x2="40.4" y2="242.6" stroke="#8f7c5c" stroke-opacity="0.11" stroke-width="1.2"/><line x1="40.0" y1="96.2" x2="40.6" y2="146.5" stroke="#8f7c5c" stroke-opacity="0.18" stroke-width="0.7"/><line x1="10.6" y1="20.3" x2="10.6" y2="89.6" stroke="#a8916a" stroke-opacity="0.09" stroke-width="1.3"/><line x1="41.7" y1="-10.3" x2="41.6" y2="103.7" stroke="#efe3cc" stroke-opacity="0.20" stroke-width="1.4"/><line x1="45.9" y1="60.3" x2="46.4" y2="153.4" stroke="#a8916a" stroke-opacity="0.14" stroke-width="0.5"/><line x1="30.4" y1="104.2" x2="30.5" y2="159.1" stroke="#8f7c5c" stroke-opacity="0.07" stroke-width="1.3"/><line x1="16.3" y1="62.9" x2="15.4" y2="158.5" stroke="#efe3cc" stroke-opacity="0.18" stroke-width="0.6"/><line x1="9.6" y1="-13.2" x2="9.5" y2="36.5" stroke="#8f7c5c" stroke-opacity="0.13" stroke-width="0.5"/><line x1="30.6" y1="60.9" x2="31.2" y2="152.1" stroke="#efe3cc" stroke-opacity="0.17" stroke-width="1.1"/><line x1="25.4" y1="19.6" x2="26.2" y2="111.9" stroke="#efe3cc" stroke-opacity="0.20" stroke-width="1.7"/><line x1="10.1" y1="51.6" x2="9.6" y2="133.3" stroke="#efe3cc" stroke-opacity="0.12" stroke-width="0.9"/><line x1="3.7" y1="87.1" x2="3.9" y2="205.5" stroke="#efe3cc" stroke-opacity="0.20" stroke-width="0.7"/><line x1="18.3" y1="20.5" x2="18.1" y2="74.2" stroke="#8f7c5c" stroke-opacity="0.13" stroke-width="1.5"/><line x1="24.4" y1="138.4" x2="24.2" y2="261.6" stroke="#efe3cc" stroke-opacity="0.08" stroke-width="1.1"/><line x1="21.1" y1="37.1" x2="20.9" y2="86.3" stroke="#a8916a" stroke-opacity="0.11" stroke-width="0.9"/></pattern></defs>
<polygon points="603,316 645,302 645,532 603,554" fill="#cfbd9b" /><polygon points="603,316 645,302 645,532 603,554" fill="url(#gv)"/>
<polygon points="596.6,317 603.5,317 603.5,555 597,557" fill="#d9c8a8" />
<polygon points="497,309 597,315 597,378 497,370.4" fill="#c9b593" /><polygon points="497,309 597,315 597,378 497,370.4" fill="url(#gh)"/>
<polygon points="444.6,309 497,309 497,514 444.6,537" fill="#bdab8d" /><polygon points="444.6,309 497,309 497,514 444.6,537" fill="url(#gv)"/>
<polygon points="449.7,334 493.4,324.3 596.6,329 596.6,345" fill="#d5c3a2" />
<polygon points="449.7,334 596.6,345 596.6,352.2 449.7,342.5" fill="#e0d1b4" />
<polygon points="350.3,303.7 444.6,309.3 448,309.5 448,536.5 350.3,527.3" fill="#dac8a8" />
<polygon points="350.3,363.7 444.6,369.358 444.6,380.658 350.3,375.0" fill="#d5c3a2" />
<polygon points="350.3,435.8 444.6,441.458 444.6,451.958 350.3,446.3" fill="#d5c3a2" />
<polygon points="356.3,363.7 444.6,368.998 444.6,371.298 356.3,366.0" fill="#b9a584" />
<polygon points="356.3,435.8 444.6,441.098 444.6,443.498 356.3,438.2" fill="#b9a584" />
<polygon points="350.3,363.7 356.3,364.1 356.3,375.4 350.3,375" fill="#dccbab" />
<polygon points="350.3,435.8 356.3,436.2 356.3,446.7 350.3,446.3" fill="#dccbab" />
<polygon points="356.3,364.1 358.5,364.2 358.5,375.5 356.3,375.4" fill="#9d8b6c" />
<polygon points="356.3,436.2 358.5,436.3 358.5,446.8 356.3,446.7" fill="#9d8b6c" />
<polygon points="350.3,303.7 444.6,309.358 444.6,369.358 350.3,363.7" fill="#e2d4b9" /><polygon points="350.3,303.7 444.6,309.358 444.6,369.358 350.3,363.7" fill="url(#gh)"/>
<polygon points="350.3,375.0 444.6,380.658 444.6,441.458 350.3,435.8" fill="#e2d4b9" /><polygon points="350.3,375.0 444.6,380.658 444.6,441.458 350.3,435.8" fill="url(#gh)"/>
<polygon points="350.3,446.3 444.6,451.958 444.6,514.658 350.3,509.0" fill="#e2d4b9" /><polygon points="350.3,446.3 444.6,451.958 444.6,514.658 350.3,509.0" fill="url(#gh)"/>
<polygon points="350.3,362.5 444.6,368.158 444.6,369.358 350.3,363.7" fill="#cdbb9b" />
<polygon points="350.3,434.6 444.6,440.25800000000004 444.6,441.458 350.3,435.8" fill="#cdbb9b" />
<polygon points="350.3,507.8 444.6,513.458 444.6,514.658 350.3,509.0" fill="#cdbb9b" />
<polygon points="350.3,509 358.3,509.5 358.3,527.3 350.3,527" fill="#d6c5a5" />
<polygon points="358.3,509.5 444.6,515.7 444.6,536.5 358.3,527.3" fill="#d0bd9c" />
<polygon points="358.3,509.5 444.6,515.7 444.6,518 358.3,512" fill="#bca987" />
<polygon points="348.6,297.1 391.4,282 654.3,294.3 598.6,314.3" fill="#ddcdb3" /><polygon points="348.6,297.1 391.4,282 654.3,294.3 598.6,314.3" fill="url(#gh)"/>
<polygon points="348.6,297.1 598.6,314.3 598.6,318.6 348.6,303.7" fill="#d6c4a4" />
<polygon points="598.6,314.3 654.3,294.3 654.3,299.5 598.6,318.6" fill="#d6c5a5" />
<line x1="450" y1="334.5" x2="493" y2="324" stroke="#767b84" stroke-width="1.8"/>
<rect x="448.6" y="336.6" width="2" height="6.4" fill="#2a2a2a"/>
<rect x="595.5" y="346.5" width="2" height="6" fill="#2a2a2a"/>
<line x1="339.10979974797635" y1="290.5513273134609" x2="408.89020025202365" y2="273.14867268653916" stroke="#000" stroke-width="2.9"/><polygon points="332.9,292.1 341.58177409260304,293.8512277421871 339.74272527733785,286.47709054146515" fill="#000"/><polygon points="415.1,271.6 408.25727472266215,277.2229094585349 406.41822590739696,269.8487722578129" fill="#000"/>
<line x1="428.8838621794049" y1="272.05640428302814" x2="647.416137820595" y2="284.74359571697187" stroke="#000" stroke-width="2.9"/><polygon points="419.3,271.5 431.0479926063278,276.18878126187053 431.51166284218453,268.2022294456998" fill="#000"/><polygon points="657,285.3 644.7883371578155,288.5977705543002 645.2520073936723,280.6112187381295" fill="#000"/>
<line x1="666.4" y1="303.90000000000003" x2="666.4" y2="519.4" stroke="#000" stroke-width="2.9"/><polygon points="666.4,294.3 662.4,306.3 670.4,306.3" fill="#000"/><polygon points="666.4,529 662.4,517.0 670.4,517.0" fill="#000"/>
<g transform="translate(346,283) rotate(-13)"><text x="0" y="0" font-family="Liberation Sans" font-size="14.5" font-weight="bold" fill="#000" text-anchor="start" textLength="54" lengthAdjust="spacingAndGlyphs" stroke="#000" stroke-width="0.4" >500 мм</text></g>
<g transform="translate(511,271.6) rotate(2.2)"><text x="0" y="0" font-family="Liberation Sans" font-size="18" font-weight="bold" fill="#000" text-anchor="start" textLength="65" lengthAdjust="spacingAndGlyphs" stroke="#000" stroke-width="0.4" >900 мм</text></g>
<g transform="translate(671,359) rotate(90)"><text x="0" y="0" font-family="Liberation Sans" font-size="18" font-weight="bold" fill="#000" text-anchor="start" textLength="55" lengthAdjust="spacingAndGlyphs" stroke="#000" stroke-width="0.4" >766 мм</text></g>
<rect x="30.3" y="333.5" width="211.0" height="120.80000000000001" stroke="#333" stroke-width="1.1" fill="none"/>
<line x1="30.3" y1="346.92" x2="241.3" y2="346.92" stroke="#333" stroke-width="1.1" fill="none"/>
<line x1="30.3" y1="360.34" x2="241.3" y2="360.34" stroke="#333" stroke-width="1.1" fill="none"/>
<line x1="30.3" y1="373.76" x2="241.3" y2="373.76" stroke="#333" stroke-width="1.1" fill="none"/>
<line x1="30.3" y1="387.18" x2="241.3" y2="387.18" stroke="#333" stroke-width="1.1" fill="none"/>
<line x1="30.3" y1="400.6" x2="241.3" y2="400.6" stroke="#333" stroke-width="1.1" fill="none"/>
<line x1="30.3" y1="414.02" x2="241.3" y2="414.02" stroke="#333" stroke-width="1.1" fill="none"/>
<line x1="30.3" y1="427.44" x2="241.3" y2="427.44" stroke="#333" stroke-width="1.1" fill="none"/>
<line x1="30.3" y1="440.86" x2="241.3" y2="440.86" stroke="#333" stroke-width="1.1" fill="none"/>
<line x1="47.7" y1="333.5" x2="47.7" y2="454.3" stroke="#333" stroke-width="1.1" fill="none"/>
<line x1="170.9" y1="333.5" x2="170.9" y2="454.3" stroke="#333" stroke-width="1.1" fill="none"/>
<line x1="225.6" y1="333.5" x2="225.6" y2="454.3" stroke="#333" stroke-width="1.1" fill="none"/>
<rect x="29.3" y="454.7" width="205.29999999999998" height="66.69999999999999" stroke="#333" stroke-width="1.1" fill="none"/>
<line x1="29.3" y1="467.9" x2="234.6" y2="467.9" stroke="#333" stroke-width="1.1" fill="none"/>
<line x1="29.3" y1="481.1" x2="234.6" y2="481.1" stroke="#333" stroke-width="1.1" fill="none"/>
<line x1="29.3" y1="494.6" x2="234.6" y2="494.6" stroke="#333" stroke-width="1.1" fill="none"/>
<line x1="29.3" y1="507.8" x2="234.6" y2="507.8" stroke="#333" stroke-width="1.1" fill="none"/>
<line x1="47.7" y1="454.7" x2="47.7" y2="521.4" stroke="#333" stroke-width="1.1" fill="none"/>
<line x1="172.2" y1="454.7" x2="172.2" y2="521.4" stroke="#333" stroke-width="1.1" fill="none"/>
<line x1="223.0" y1="454.7" x2="223.0" y2="521.4" stroke="#333" stroke-width="1.1" fill="none"/>
<text x="38.5" y="344.3" font-family="Liberation Serif" font-size="12.4" font-weight="normal" fill="#151515" text-anchor="middle" stroke="#151515" stroke-width="0.12" >1</text>
<text x="51.4" y="344.3" font-family="Liberation Serif" font-size="12.4" font-weight="normal" fill="#151515" text-anchor="start" textLength="83.5" lengthAdjust="spacingAndGlyphs" stroke="#151515" stroke-width="0.12" >Боковина левая</text>
<text x="177" y="344.3" font-family="Liberation Serif" font-size="12.4" font-weight="normal" fill="#151515" text-anchor="start" textLength="44" lengthAdjust="spacingAndGlyphs" stroke="#151515" stroke-width="0.12" >750x388</text>
<text x="232" y="344.3" font-family="Liberation Serif" font-size="12.4" font-weight="normal" fill="#151515" text-anchor="start" textLength="5.5" lengthAdjust="spacingAndGlyphs" stroke="#151515" stroke-width="0.12" >1</text>
<text x="38.5" y="357.72" font-family="Liberation Serif" font-size="12.4" font-weight="normal" fill="#151515" text-anchor="middle" stroke="#151515" stroke-width="0.12" >2</text>
<text x="51.4" y="357.72" font-family="Liberation Serif" font-size="12.4" font-weight="normal" fill="#151515" text-anchor="start" textLength="96.6" lengthAdjust="spacingAndGlyphs" stroke="#151515" stroke-width="0.12" >Боковина средняя</text>
<text x="177" y="357.72" font-family="Liberation Serif" font-size="12.4" font-weight="normal" fill="#151515" text-anchor="start" textLength="44" lengthAdjust="spacingAndGlyphs" stroke="#151515" stroke-width="0.12" >750x388</text>
<text x="232" y="357.72" font-family="Liberation Serif" font-size="12.4" font-weight="normal" fill="#151515" text-anchor="start" textLength="5.5" lengthAdjust="spacingAndGlyphs" stroke="#151515" stroke-width="0.12" >1</text>
<text x="38.5" y="371.14" font-family="Liberation Serif" font-size="12.4" font-weight="normal" fill="#151515" text-anchor="middle" stroke="#151515" stroke-width="0.12" >3</text>
<text x="51.4" y="371.14" font-family="Liberation Serif" font-size="12.4" font-weight="normal" fill="#151515" text-anchor="start" textLength="90.8" lengthAdjust="spacingAndGlyphs" stroke="#151515" stroke-width="0.12" >Боковина правая</text>
<text x="177" y="371.14" font-family="Liberation Serif" font-size="12.4" font-weight="normal" fill="#151515" text-anchor="start" textLength="44" lengthAdjust="spacingAndGlyphs" stroke="#151515" stroke-width="0.12" >750x388</text>
<text x="232" y="371.14" font-family="Liberation Serif" font-size="12.4" font-weight="normal" fill="#151515" text-anchor="start" textLength="5.5" lengthAdjust="spacingAndGlyphs" stroke="#151515" stroke-width="0.12" >1</text>
<text x="38.5" y="384.56" font-family="Liberation Serif" font-size="12.4" font-weight="normal" fill="#151515" text-anchor="middle" stroke="#151515" stroke-width="0.12" >4</text>
<text x="51.4" y="384.56" font-family="Liberation Serif" font-size="12.4" font-weight="normal" fill="#151515" text-anchor="start" textLength="63.9" lengthAdjust="spacingAndGlyphs" stroke="#151515" stroke-width="0.12" >Вязка стола</text>
<text x="177" y="384.56" font-family="Liberation Serif" font-size="12.4" font-weight="normal" fill="#151515" text-anchor="start" textLength="44" lengthAdjust="spacingAndGlyphs" stroke="#151515" stroke-width="0.12" >525x260</text>
<text x="232" y="384.56" font-family="Liberation Serif" font-size="12.4" font-weight="normal" fill="#151515" text-anchor="start" textLength="5.5" lengthAdjust="spacingAndGlyphs" stroke="#151515" stroke-width="0.12" >1</text>
<text x="38.5" y="397.98" font-family="Liberation Serif" font-size="12.4" font-weight="normal" fill="#151515" text-anchor="middle" stroke="#151515" stroke-width="0.12" >5</text>
<text x="51.4" y="397.98" font-family="Liberation Serif" font-size="12.4" font-weight="normal" fill="#151515" text-anchor="start" textLength="66.6" lengthAdjust="spacingAndGlyphs" stroke="#151515" stroke-width="0.12" >Столешница</text>
<text x="177" y="397.98" font-family="Liberation Serif" font-size="12.4" font-weight="normal" fill="#151515" text-anchor="start" textLength="44" lengthAdjust="spacingAndGlyphs" stroke="#151515" stroke-width="0.12" >900x500</text>
<text x="232" y="397.98" font-family="Liberation Serif" font-size="12.4" font-weight="normal" fill="#151515" text-anchor="start" textLength="5.5" lengthAdjust="spacingAndGlyphs" stroke="#151515" stroke-width="0.12" >1</text>
<text x="38.5" y="411.40000000000003" font-family="Liberation Serif" font-size="12.4" font-weight="normal" fill="#151515" text-anchor="middle" stroke="#151515" stroke-width="0.12" >6</text>
<text x="54.5" y="411.40000000000003" font-family="Liberation Serif" font-size="12.4" font-weight="normal" fill="#151515" text-anchor="start" textLength="37.5" lengthAdjust="spacingAndGlyphs" stroke="#151515" stroke-width="0.12" >Цоколь</text>
<text x="177" y="411.40000000000003" font-family="Liberation Serif" font-size="12.4" font-weight="normal" fill="#151515" text-anchor="start" textLength="37.5" lengthAdjust="spacingAndGlyphs" stroke="#151515" stroke-width="0.12" >323x74</text>
<text x="233" y="411.40000000000003" font-family="Liberation Serif" font-size="12.4" font-weight="normal" fill="#151515" text-anchor="start" textLength="5.5" lengthAdjust="spacingAndGlyphs" stroke="#151515" stroke-width="0.12" >2</text>
<text x="38.5" y="424.82" font-family="Liberation Serif" font-size="12.4" font-weight="normal" fill="#151515" text-anchor="middle" stroke="#151515" stroke-width="0.12" >7</text>
<text x="54.5" y="424.82" font-family="Liberation Serif" font-size="12.4" font-weight="normal" fill="#151515" text-anchor="start" textLength="38.5" lengthAdjust="spacingAndGlyphs" stroke="#151515" stroke-width="0.12" >Планка</text>
<text x="177" y="424.82" font-family="Liberation Serif" font-size="12.4" font-weight="normal" fill="#151515" text-anchor="start" textLength="37.5" lengthAdjust="spacingAndGlyphs" stroke="#151515" stroke-width="0.12" >323x60</text>
<text x="233" y="424.82" font-family="Liberation Serif" font-size="12.4" font-weight="normal" fill="#151515" text-anchor="start" textLength="5.5" lengthAdjust="spacingAndGlyphs" stroke="#151515" stroke-width="0.12" >2</text>
<text x="38.5" y="438.24" font-family="Liberation Serif" font-size="12.4" font-weight="normal" fill="#151515" text-anchor="middle" stroke="#151515" stroke-width="0.12" >8</text>
<text x="54.5" y="438.24" font-family="Liberation Serif" font-size="12.4" font-weight="normal" fill="#151515" text-anchor="start" textLength="87.5" lengthAdjust="spacingAndGlyphs" stroke="#151515" stroke-width="0.12" >Боковина ящика</text>
<text x="177" y="438.24" font-family="Liberation Serif" font-size="12.4" font-weight="normal" fill="#151515" text-anchor="start" textLength="44" lengthAdjust="spacingAndGlyphs" stroke="#151515" stroke-width="0.12" >350x110</text>
<text x="232" y="438.24" font-family="Liberation Serif" font-size="12.4" font-weight="normal" fill="#151515" text-anchor="start" textLength="5.5" lengthAdjust="spacingAndGlyphs" stroke="#151515" stroke-width="0.12" >6</text>
<text x="38.5" y="451.66" font-family="Liberation Serif" font-size="12.4" font-weight="normal" fill="#151515" text-anchor="middle" stroke="#151515" stroke-width="0.12" >9</text>
<text x="49.6" y="451.66" font-family="Liberation Serif" font-size="12.4" font-weight="normal" fill="#151515" text-anchor="start" textLength="117.3" lengthAdjust="spacingAndGlyphs" stroke="#151515" stroke-width="0.12" >Щит ящика передний</text>
<text x="177" y="451.66" font-family="Liberation Serif" font-size="12.4" font-weight="normal" fill="#151515" text-anchor="start" textLength="43.5" lengthAdjust="spacingAndGlyphs" stroke="#151515" stroke-width="0.12" >266x110</text>
<text x="233.6" y="451.66" font-family="Liberation Serif" font-size="12.4" font-weight="normal" fill="#151515" text-anchor="start" textLength="5.5" lengthAdjust="spacingAndGlyphs" stroke="#151515" stroke-width="0.12" >3</text>
<text x="40" y="465.5" font-family="Liberation Serif" font-size="12.4" font-weight="normal" fill="#151515" text-anchor="middle" textLength="12.5" lengthAdjust="spacingAndGlyphs" stroke="#151515" stroke-width="0.12" >10</text>
<text x="53.5" y="465.5" font-family="Liberation Serif" font-size="12.4" font-weight="normal" fill="#151515" text-anchor="start" textLength="102.9" lengthAdjust="spacingAndGlyphs" stroke="#151515" stroke-width="0.12" >Щит ящика задний</text>
<text x="173" y="465.5" font-family="Liberation Serif" font-size="12.4" font-weight="normal" fill="#151515" text-anchor="start" textLength="46.5" lengthAdjust="spacingAndGlyphs" stroke="#151515" stroke-width="0.12" >266x110</text>
<text x="227.7" y="465.5" font-family="Liberation Serif" font-size="12.4" font-weight="normal" fill="#151515" text-anchor="start" textLength="5.5" lengthAdjust="spacingAndGlyphs" stroke="#151515" stroke-width="0.12" >3</text>
<text x="40" y="478.7" font-family="Liberation Serif" font-size="12.4" font-weight="normal" fill="#151515" text-anchor="middle" textLength="12.5" lengthAdjust="spacingAndGlyphs" stroke="#151515" stroke-width="0.12" >11</text>
<text x="62.7" y="478.7" font-family="Liberation Serif" font-size="12.4" font-weight="normal" fill="#151515" text-anchor="start" textLength="69.7" lengthAdjust="spacingAndGlyphs" stroke="#151515" stroke-width="0.12" >Фасад ящика</text>
<text x="173" y="478.7" font-family="Liberation Serif" font-size="12.4" font-weight="normal" fill="#151515" text-anchor="start" textLength="45.8" lengthAdjust="spacingAndGlyphs" stroke="#151515" stroke-width="0.12" >350x200</text>
<text x="227.7" y="478.7" font-family="Liberation Serif" font-size="12.4" font-weight="normal" fill="#151515" text-anchor="start" textLength="5.5" lengthAdjust="spacingAndGlyphs" stroke="#151515" stroke-width="0.12" >3</text>
<text x="40" y="491.90000000000003" font-family="Liberation Serif" font-size="12.4" font-weight="normal" fill="#151515" text-anchor="middle" textLength="12.5" lengthAdjust="spacingAndGlyphs" stroke="#151515" stroke-width="0.12" >12</text>
<text x="56.8" y="491.90000000000003" font-family="Liberation Serif" font-size="12.4" font-weight="normal" fill="#151515" text-anchor="start" textLength="87.4" lengthAdjust="spacingAndGlyphs" stroke="#151515" stroke-width="0.12" >Полка выкатная</text>
<text x="173.8" y="491.90000000000003" font-family="Liberation Serif" font-size="12.4" font-weight="normal" fill="#151515" text-anchor="start" textLength="45" lengthAdjust="spacingAndGlyphs" stroke="#151515" stroke-width="0.12" >500x350</text>
<text x="227.7" y="491.90000000000003" font-family="Liberation Serif" font-size="12.4" font-weight="normal" fill="#151515" text-anchor="start" textLength="5.5" lengthAdjust="spacingAndGlyphs" stroke="#151515" stroke-width="0.12" >1</text>
<text x="40" y="505.40000000000003" font-family="Liberation Serif" font-size="12.4" font-weight="normal" fill="#151515" text-anchor="middle" textLength="12.5" lengthAdjust="spacingAndGlyphs" stroke="#151515" stroke-width="0.12" >13</text>
<text x="62.7" y="505.40000000000003" font-family="Liberation Serif" font-size="12.4" font-weight="normal" fill="#151515" text-anchor="start" textLength="58.5" lengthAdjust="spacingAndGlyphs" stroke="#151515" stroke-width="0.12" >Дно ящика</text>
<text x="173" y="505.40000000000003" font-family="Liberation Serif" font-size="12.4" font-weight="normal" fill="#151515" text-anchor="start" textLength="45.8" lengthAdjust="spacingAndGlyphs" stroke="#151515" stroke-width="0.12" >346x295</text>
<text x="227.7" y="505.40000000000003" font-family="Liberation Serif" font-size="12.4" font-weight="normal" fill="#151515" text-anchor="start" textLength="5.5" lengthAdjust="spacingAndGlyphs" stroke="#151515" stroke-width="0.12" >3</text>
<text x="40" y="518.6" font-family="Liberation Serif" font-size="12.4" font-weight="normal" fill="#151515" text-anchor="middle" textLength="12.5" lengthAdjust="spacingAndGlyphs" stroke="#151515" stroke-width="0.12" >14</text>
<text x="60" y="518.6" font-family="Liberation Serif" font-size="12.4" font-weight="normal" fill="#151515" text-anchor="start" textLength="76.7" lengthAdjust="spacingAndGlyphs" stroke="#151515" stroke-width="0.12" >Стенка задняя</text>
<text x="173.8" y="518.6" font-family="Liberation Serif" font-size="12.4" font-weight="normal" fill="#151515" text-anchor="start" textLength="45.7" lengthAdjust="spacingAndGlyphs" stroke="#151515" stroke-width="0.12" >675x350</text>
<text x="227.7" y="518.6" font-family="Liberation Serif" font-size="12.4" font-weight="normal" fill="#151515" text-anchor="start" textLength="5.5" lengthAdjust="spacingAndGlyphs" stroke="#151515" stroke-width="0.12" >1</text>
<rect x="5.5" y="580.4" width="692.1" height="105.10000000000002" stroke="#1a1a1a" stroke-width="1.3" fill="none"/>
<line x1="5.5" y1="639.3" x2="697.6" y2="639.3" stroke="#1a1a1a" stroke-width="1.3" fill="none"/>
<line x1="5.5" y1="666" x2="697.6" y2="666" stroke="#1a1a1a" stroke-width="1.3" fill="none"/>
<line x1="60.75" y1="580.4" x2="60.75" y2="685.5" stroke="#1a1a1a" stroke-width="1.3" fill="none"/>
<line x1="111.75" y1="580.4" x2="111.75" y2="685.5" stroke="#1a1a1a" stroke-width="1.3" fill="none"/>
<line x1="173.5" y1="580.4" x2="173.5" y2="685.5" stroke="#1a1a1a" stroke-width="1.3" fill="none"/>
<line x1="230.75" y1="580.4" x2="230.75" y2="685.5" stroke="#1a1a1a" stroke-width="1.3" fill="none"/>
<line x1="271.25" y1="580.4" x2="271.25" y2="685.5" stroke="#1a1a1a" stroke-width="1.3" fill="none"/>
<line x1="311.75" y1="580.4" x2="311.75" y2="685.5" stroke="#1a1a1a" stroke-width="1.3" fill="none"/>
<line x1="355" y1="580.4" x2="355" y2="685.5" stroke="#1a1a1a" stroke-width="1.3" fill="none"/>
<line x1="409.5" y1="580.4" x2="409.5" y2="685.5" stroke="#1a1a1a" stroke-width="1.3" fill="none"/>
<line x1="464.25" y1="580.4" x2="464.25" y2="685.5" stroke="#1a1a1a" stroke-width="1.3" fill="none"/>
<line x1="535.6" y1="580.4" x2="535.6" y2="685.5" stroke="#1a1a1a" stroke-width="1.3" fill="none"/>
<line x1="579.8" y1="580.4" x2="579.8" y2="685.5" stroke="#1a1a1a" stroke-width="1.3" fill="none"/>
<text x="11.25" y="657" font-family="Liberation Serif" font-size="12.0" font-weight="normal" fill="#151515" text-anchor="start" textLength="48" lengthAdjust="spacingAndGlyphs" stroke="#151515" stroke-width="0.12" >Евровинт</text>
<text x="62.5" y="657" font-family="Liberation Serif" font-size="12.0" font-weight="normal" fill="#151515" text-anchor="start" textLength="47.5" lengthAdjust="spacingAndGlyphs" stroke="#151515" stroke-width="0.12" >Заглушка</text>
<text x="118.75" y="657" font-family="Liberation Serif" font-size="12.0" font-weight="normal" fill="#151515" text-anchor="start" textLength="50.75" lengthAdjust="spacingAndGlyphs" stroke="#151515" stroke-width="0.12" >Евроключ</text>
<text x="182" y="657" font-family="Liberation Serif" font-size="12.0" font-weight="normal" fill="#151515" text-anchor="start" textLength="33.5" lengthAdjust="spacingAndGlyphs" stroke="#151515" stroke-width="0.12" >Ножка</text>
<text x="233.25" y="657" font-family="Liberation Serif" font-size="12.0" font-weight="normal" fill="#151515" text-anchor="start" textLength="34.25" lengthAdjust="spacingAndGlyphs" stroke="#151515" stroke-width="0.12" >Гвоздь</text>
<text x="273" y="649.5" font-family="Liberation Serif" font-size="12.0" font-weight="normal" fill="#151515" text-anchor="start" textLength="37" lengthAdjust="spacingAndGlyphs" stroke="#151515" stroke-width="0.12" >Шуруп</text>
<text x="278" y="663" font-family="Liberation Serif" font-size="12.0" font-weight="normal" fill="#151515" text-anchor="start" textLength="23.25" lengthAdjust="spacingAndGlyphs" stroke="#151515" stroke-width="0.12" >4x16</text>
<text x="313.75" y="649.5" font-family="Liberation Serif" font-size="12.0" font-weight="normal" fill="#151515" text-anchor="start" textLength="38" lengthAdjust="spacingAndGlyphs" stroke="#151515" stroke-width="0.12" >Шуруп</text>
<text x="318" y="663" font-family="Liberation Serif" font-size="12.0" font-weight="normal" fill="#151515" text-anchor="start" textLength="24.5" lengthAdjust="spacingAndGlyphs" stroke="#151515" stroke-width="0.12" >4x30</text>
<text x="358" y="649.5" font-family="Liberation Serif" font-size="12.0" font-weight="normal" fill="#151515" text-anchor="start" textLength="47.5" lengthAdjust="spacingAndGlyphs" stroke="#151515" stroke-width="0.12" >Ввинчив.</text>
<text x="363.75" y="663" font-family="Liberation Serif" font-size="12.0" font-weight="normal" fill="#151515" text-anchor="start" textLength="38.75" lengthAdjust="spacingAndGlyphs" stroke="#151515" stroke-width="0.12" >дюбель</text>
<text x="410.75" y="649.5" font-family="Liberation Serif" font-size="12.0" font-weight="normal" fill="#151515" text-anchor="start" textLength="50.5" lengthAdjust="spacingAndGlyphs" stroke="#151515" stroke-width="0.12" >Эксцентр.</text>
<text x="417.5" y="663" font-family="Liberation Serif" font-size="12.0" font-weight="normal" fill="#151515" text-anchor="start" textLength="35" lengthAdjust="spacingAndGlyphs" stroke="#151515" stroke-width="0.12" >стяжка</text>
<text x="466.25" y="649.5" font-family="Liberation Serif" font-size="12.0" font-weight="normal" fill="#151515" text-anchor="start" textLength="68.5" lengthAdjust="spacingAndGlyphs" stroke="#151515" stroke-width="0.12" >Заглушка для</text>
<text x="468.75" y="663" font-family="Liberation Serif" font-size="12.0" font-weight="normal" fill="#151515" text-anchor="start" textLength="64.25" lengthAdjust="spacingAndGlyphs" stroke="#151515" stroke-width="0.12" >эксцентрика</text>
<text x="541.4" y="657.7" font-family="Liberation Serif" font-size="12.0" font-weight="normal" fill="#151515" text-anchor="start" textLength="33.85" lengthAdjust="spacingAndGlyphs" stroke="#151515" stroke-width="0.12" >Шкант</text>
<text x="583.2" y="650.6" font-family="Liberation Serif" font-size="12.0" font-weight="normal" fill="#151515" text-anchor="start" textLength="107.5" lengthAdjust="spacingAndGlyphs" stroke="#151515" stroke-width="0.12" >Комплект роликовых</text>
<text x="582.4" y="663.8" font-family="Liberation Serif" font-size="12.0" font-weight="normal" fill="#151515" text-anchor="start" textLength="114.9" lengthAdjust="spacingAndGlyphs" stroke="#151515" stroke-width="0.12" >направляющих L=350мм</text>
<text x="27.5" y="681.3" font-family="Liberation Serif" font-size="17.6" font-weight="normal" fill="#151515" text-anchor="start" textLength="17" lengthAdjust="spacingAndGlyphs" stroke="#151515" stroke-width="0.12" >20</text>
<text x="80.5" y="681.3" font-family="Liberation Serif" font-size="17.6" font-weight="normal" fill="#151515" text-anchor="start" textLength="8.25" lengthAdjust="spacingAndGlyphs" stroke="#151515" stroke-width="0.12" >6</text>
<text x="140.5" y="681.3" font-family="Liberation Serif" font-size="17.6" font-weight="normal" fill="#151515" text-anchor="start" textLength="5.75" lengthAdjust="spacingAndGlyphs" stroke="#151515" stroke-width="0.12" >1</text>
<text x="195" y="681.3" font-family="Liberation Serif" font-size="17.6" font-weight="normal" fill="#151515" text-anchor="start" textLength="7.5" lengthAdjust="spacingAndGlyphs" stroke="#151515" stroke-width="0.12" >6</text>
<text x="238" y="681.3" font-family="Liberation Serif" font-size="17.6" font-weight="normal" fill="#151515" text-anchor="start" textLength="17.5" lengthAdjust="spacingAndGlyphs" stroke="#151515" stroke-width="0.12" >40</text>
<text x="281.25" y="681.3" font-family="Liberation Serif" font-size="17.6" font-weight="normal" fill="#151515" text-anchor="start" textLength="17" lengthAdjust="spacingAndGlyphs" stroke="#151515" stroke-width="0.12" >32</text>
<text x="323" y="681.3" font-family="Liberation Serif" font-size="17.6" font-weight="normal" fill="#151515" text-anchor="start" textLength="8.25" lengthAdjust="spacingAndGlyphs" stroke="#151515" stroke-width="0.12" >6</text>
<text x="372" y="681.3" font-family="Liberation Serif" font-size="17.6" font-weight="normal" fill="#151515" text-anchor="start" textLength="8.5" lengthAdjust="spacingAndGlyphs" stroke="#151515" stroke-width="0.12" >6</text>
<text x="428.75" y="681.3" font-family="Liberation Serif" font-size="17.6" font-weight="normal" fill="#151515" text-anchor="start" textLength="8.75" lengthAdjust="spacingAndGlyphs" stroke="#151515" stroke-width="0.12" >6</text>
<text x="497" y="681.3" font-family="Liberation Serif" font-size="17.6" font-weight="normal" fill="#151515" text-anchor="start" textLength="8.5" lengthAdjust="spacingAndGlyphs" stroke="#151515" stroke-width="0.12" >6</text>
<text x="552.8" y="681.3" font-family="Liberation Serif" font-size="17.6" font-weight="normal" fill="#151515" text-anchor="start" textLength="16.4" lengthAdjust="spacingAndGlyphs" stroke="#151515" stroke-width="0.12" >14</text>
<text x="635.25" y="681.3" font-family="Liberation Serif" font-size="17.6" font-weight="normal" fill="#151515" text-anchor="start" textLength="9.25" lengthAdjust="spacingAndGlyphs" stroke="#151515" stroke-width="0.12" >4</text>
<text x="140.9" y="575.1" font-family="Liberation Serif" font-size="20.7" font-weight="normal" fill="#151515" text-anchor="start" textLength="366.8" lengthAdjust="spacingAndGlyphs" stroke="#151515" stroke-width="0.12" >Комплект фурнитуры для сборки стола</text>
</svg>
</body></html>
